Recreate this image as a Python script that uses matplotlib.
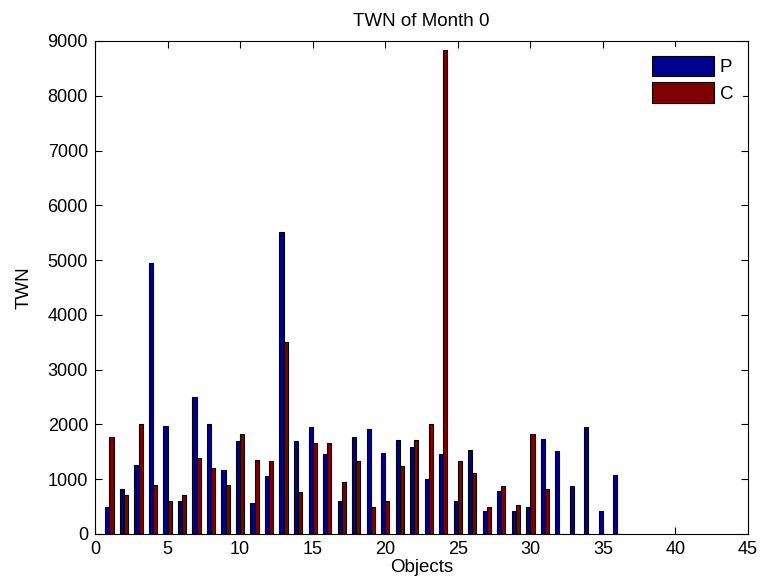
import numpy as np
import matplotlib.pyplot as plt

plt.rcParams['font.family'] = ['Liberation Sans', 'DejaVu Sans']

objects = np.arange(1, 37)
p_vals = [500, 828, 1266, 4954, 1978, 608, 2508, 2008, 1168, 1692,
          560, 1059, 5509, 1692, 1954, 1454, 608, 1766, 1923, 1485,
          1716, 1588, 1010, 1454, 608, 1534, 426, 791, 426, 499,
          1740, 1510, 876, 1954, 426, 1083]
c_vals = [1766, 712, 2008, 900, 608, 712, 1394, 1211, 900, 1826,
          1351, 1327, 3506, 767, 1668, 1668, 955, 1327, 499, 608,
          1242, 1716, 2008, 8830, 1327, 1108, 499, 870, 530, 1826,
          828, 0, 0, 0, 0, 0]

fig = plt.figure(figsize=(7.61, 5.85), dpi=100)
ax = fig.add_axes([0.1248, 0.0872, 0.983 - 0.1248, 0.930 - 0.0872])

w = 0.286
ax.bar(objects - w / 2, p_vals, width=w, color='#00008F', edgecolor='black', linewidth=0.8, label='P')
ax.bar(objects + w / 2, c_vals, width=w, color='#800000', edgecolor='black', linewidth=0.8, label='C')

ax.set_xlim(0, 45)
ax.set_ylim(0, 9000)
ax.set_xticks(range(0, 46, 5))
ax.set_yticks(range(0, 9001, 1000))
ax.tick_params(direction='in', top=True, right=True, labelsize=13, length=5, pad=5)
ax.set_title('TWN of Month 0', fontsize=13.5, pad=11)
ax.set_xlabel('Objects', fontsize=13.5, labelpad=1)
ax.set_ylabel('TWN', fontsize=13.5, labelpad=11)

leg = ax.legend(loc='upper right', fontsize=13.5, frameon=True, fancybox=False,
                handlelength=3.3, handleheight=1.3, labelspacing=0.3,
                handletextpad=0.3, borderaxespad=0.3, borderpad=0.5)
leg.get_frame().set_edgecolor('white')

fig.savefig('out.png', dpi=100)
